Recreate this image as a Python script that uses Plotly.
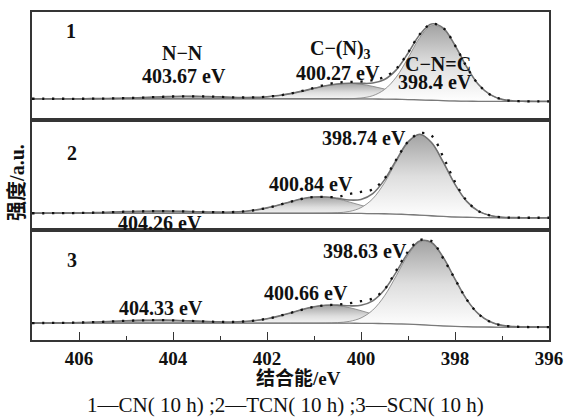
import plotly.graph_objects as go

# ---------------- data ----------------
binding_energy = [407.0, 406.75, 406.5, 406.25, 406.0, 405.75, 405.5, 405.25, 405.0,
                  404.75, 404.5, 404.25, 404.0, 403.75, 403.5, 403.25, 403.0, 402.75,
                  402.5, 402.25, 402.0, 401.75, 401.5, 401.25, 401.0, 400.75, 400.5,
                  400.25, 400.0, 399.75, 399.5, 399.25, 399.0, 398.75, 398.5, 398.25,
                  398.0, 397.75, 397.5, 397.25, 397.0, 396.75, 396.5, 396.25, 396.0]

# panel 1: CN(10 h)
bg_1 = [2.7]*27 + [2.6, 2.6, 2.5, 2.4, 2.2, 1.9, 1.6, 1.2, 0.8, 0.5, 0.3, 0.1, 0.1, 0, 0, 0, 0, 0]
nn_1 = [0, 0, 0, 0, 0, 0.1, 0.2, 0.4, 0.6, 1.0, 1.5, 1.9, 2.3, 2.5, 2.4, 2.2, 1.8, 1.3, 0.9, 0.5,
        0.3, 0.1] + [0]*23
cn3_1 = [0]*16 + [0.1, 0.2, 0.4, 0.9, 1.8, 3.2, 5.2, 7.7, 10.5, 13.1, 14.9, 15.5, 14.7, 12.7, 10.1,
                  7.3, 4.8, 2.9, 1.6, 0.8, 0.4, 0.2, 0.1] + [0]*6
cnc_1 = [0]*27 + [0.2, 0.9, 3.3, 9.6, 22.3, 41.8, 62.6, 75.2, 72.2, 55.6, 34.2, 16.8, 6.7, 2.1, 0.5,
                  0.1, 0, 0]
raw_1 = [2.7, 2.7, 2.7, 2.7, 2.7, 2.8, 2.9, 3.1, 3.3, 3.7, 4.2, 4.6, 5.0, 5.2, 5.1, 4.9, 4.6, 4.2,
         4.0, 4.1, 4.8, 6.0, 7.9, 10.6, 13.6, 17.0, 19.0, 19.6, 20.0, 21.4, 24.6, 33.0, 49.0, 67.5,
         78.0, 74.0, 56.5, 34.7, 17.0, 6.8, 2.1, 0.5, 0.1, 0, 0]

# panel 2: TCN(10 h)
bg_2 = [4.5]*27 + [4.4, 4.3, 4.1, 4.0, 3.7, 3.2, 2.7, 2.0, 1.4, 0.8, 0.5, 0.2, 0.1, 0, 0, 0, 0, 0]
nn_2 = [0, 0, 0.1, 0.2, 0.3, 0.5, 0.8, 1.2, 1.6, 1.9, 2.1, 2.2, 2.1, 1.9, 1.5, 1.2, 0.8, 0.5, 0.3,
        0.2, 0.1] + [0]*24
cn3_2 = [0]*15 + [0.1, 0.3, 0.7, 1.5, 3.0, 5.3, 8.3, 11.6, 14.6, 16.3, 16.2, 14.5, 11.5, 8.2, 5.2,
                  2.9, 1.5, 0.7, 0.3, 0.1] + [0]*10
cnc_2 = [0]*25 + [0.1, 0.5, 1.9, 5.9, 15.0, 31.2, 52.7, 72.4, 81.0, 73.6, 54.5, 32.8, 16.0, 6.4, 2.1,
                  0.5, 0.1, 0, 0, 0]
raw_2 = [4.5, 4.5, 4.6, 4.7, 4.8, 5.0, 5.3, 5.7, 6.1, 6.4, 6.6, 6.7, 6.6, 6.4, 6.0, 5.8, 5.6, 5.7,
         6.3, 7.7, 9.9, 12.8, 16.1, 19.1, 20.8, 20.9, 21.0, 23.8, 26.0, 28.5, 39.5, 58.5, 76.5,
         85.0, 82.5, 61.0, 36.0, 17.0, 6.6, 2.2, 0.5, 0.1, 0, 0, 0]

# panel 3: SCN(10 h)
bg_3 = [4.0]*27 + [3.9, 3.8, 3.7, 3.5, 3.3, 2.9, 2.4, 1.8, 1.2, 0.7, 0.4, 0.2, 0.1, 0, 0, 0, 0, 0]
nn_3 = [0, 0.1, 0.2, 0.3, 0.5, 0.9, 1.3, 1.8, 2.3, 2.7, 2.9, 3.0, 2.8, 2.4, 2.0, 1.4, 1.0, 0.6, 0.4,
        0.2, 0.1] + [0]*24
cn3_3 = [0]*15 + [0.1, 0.2, 0.5, 1.2, 2.4, 4.3, 7.0, 10.2, 13.6, 16.4, 17.9, 17.6, 15.7, 12.7, 9.3,
                  6.1, 3.7, 2.0, 1.0, 0.4, 0.2, 0.1] + [0]*8
cnc_3 = [0]*25 + [0.1, 0.5, 1.8, 5.4, 13.4, 27.9, 48.3, 69.5, 83.2, 82.9, 68.7, 47.4, 27.2, 13.0, 5.2,
                  1.7, 0.5, 0.1, 0, 0]
raw_3 = [4.0, 4.1, 4.2, 4.3, 4.5, 4.9, 5.3, 5.8, 6.3, 6.7, 6.9, 7.0, 6.8, 6.4, 6.0, 5.5, 5.2, 5.1,
         5.6, 6.6, 8.4, 11.0, 14.2, 17.6, 20.4, 22.0, 22.5, 24.0, 26.0, 28.8, 38.0, 57.0, 76.0,
         87.5, 86.5, 69.0, 48.2, 27.6, 13.2, 5.3, 1.7, 0.5, 0.1, 0, 0]

x_ticks = [406, 404, 402, 400, 398, 396]

panel_labels = ["1", "2", "3"]
caption = "1—CN( 10 h) ;2—TCN( 10 h) ;3—SCN( 10 h)"

# ---------------- figure ----------------
SERIF = "Liberation Serif, 'Noto Sans CJK SC', serif"
GRAD = [[0, "rgb(255,255,255)"], [0.5, "rgb(222,222,222)"], [1, "rgb(163,163,163)"]]

fig = go.Figure()

panels = [
    ("x", "y", bg_1, [nn_1, cn3_1, cnc_1], raw_1),
    ("x2", "y2", bg_2, [nn_2, cn3_2, cnc_2], raw_2),
    ("x3", "y3", bg_3, [nn_3, cn3_3, cnc_3], raw_3),
]

for xa, ya, bg, comps, raw in panels:
    for comp in comps:
        fig.add_trace(go.Scatter(x=binding_energy, y=bg, mode="lines",
                                 line=dict(width=0, shape="spline"),
                                 hoverinfo="skip", showlegend=False, xaxis=xa, yaxis=ya))
        top = [b + c for b, c in zip(bg, comp)]
        fig.add_trace(go.Scatter(x=binding_energy, y=top, mode="lines",
                                 line=dict(width=0.9, color="#8a8a8a", shape="spline"),
                                 fill="tonexty",
                                 fillgradient=dict(type="vertical", colorscale=GRAD),
                                 hoverinfo="skip", showlegend=False, xaxis=xa, yaxis=ya))
    env = [bg[i] + sum(c[i] for c in comps) for i in range(len(bg))]
    fig.add_trace(go.Scatter(x=binding_energy, y=bg, mode="lines",
                             line=dict(width=1.3, color="#7a7a7a", shape="spline"),
                             showlegend=False, xaxis=xa, yaxis=ya))
    fig.add_trace(go.Scatter(x=binding_energy, y=env, mode="lines",
                             line=dict(width=1.6, color="#727272", shape="spline"),
                             showlegend=False, xaxis=xa, yaxis=ya))
    fig.add_trace(go.Scatter(x=binding_energy, y=raw, mode="lines",
                             line=dict(width=2.3, color="#111111", shape="spline", dash="2.3px,7.7px"),
                             showlegend=False, xaxis=xa, yaxis=ya))

frame = dict(showline=True, mirror=True, linecolor="#353535", linewidth=1.5,
             showgrid=False, zeroline=False)

fig.update_layout(
    width=573, height=419,
    margin=dict(l=32, r=16, t=10, b=79),
    paper_bgcolor="white", plot_bgcolor="white",
    showlegend=False,
    xaxis=dict(range=[407, 396], anchor="y", showticklabels=False, ticks="", **frame),
    xaxis2=dict(range=[407, 396], anchor="y2", showticklabels=False, ticks="", **frame),
    xaxis3=dict(range=[407, 396], anchor="y3", tickvals=x_ticks,
                ticktext=[str(v) for v in x_ticks], ticks="inside", ticklen=8, tickwidth=1.4,
                tickcolor="#353535",
                minor=dict(ticks="inside", dtick=1, tick0=396, ticklen=4, tickwidth=1.2,
                           tickcolor="#353535"),
                tickfont=dict(family=SERIF, size=19, color="#111111", weight="bold"),
                **frame),
    yaxis=dict(domain=[0.6697, 1.0], range=[-19, 90], showticklabels=False, ticks="", anchor="x", **frame),
    yaxis2=dict(domain=[0.3364, 0.6697], range=[-12, 98], showticklabels=False, ticks="", anchor="x2", **frame),
    yaxis3=dict(domain=[0.0, 0.3364], range=[-13, 98], showticklabels=False, ticks="", anchor="x3", **frame),
)

label_font = dict(family=SERIF, size=20, color="#111111")
ann = [
    (panel_labels[0], 406.16, 71, "x", "y"),
    ("N−N", 403.79, 49, "x", "y"),
    ("403.67 eV", 403.77, 26, "x", "y"),
    ("C−(N)<sub>3</sub>", 400.44, 52, "x", "y"),
    ("400.27 eV", 400.48, 29, "x", "y"),
    ("C−N=C", 398.37, 38, "x", "y"),
    ("398.4 eV", 398.43, 20, "x", "y"),
    (panel_labels[1], 406.15, 65, "x2", "y2"),
    ("398.74 eV", 399.94, 80, "x2", "y2"),
    ("400.84 eV", 401.07, 34, "x2", "y2"),
    ("404.26 eV", 404.28, -5, "x2", "y2"),
    (panel_labels[2], 406.15, 67, "x3", "y3"),
    ("398.63 eV", 399.92, 77, "x3", "y3"),
    ("400.66 eV", 401.18, 34, "x3", "y3"),
    ("404.33 eV", 404.26, 19, "x3", "y3"),
]
for text, xv, yv, xr, yr in ann:
    fig.add_annotation(text="<b>" + text + "</b>", x=xv, y=yv, xref=xr, yref=yr,
                       showarrow=False, font=label_font, xanchor="center", yanchor="middle")

fig.add_annotation(text="<b>结合能/eV</b>", x=0.516, y=-0.118, xref="paper", yref="paper",
                   showarrow=False, font=dict(family=SERIF, size=19, color="#111111"),
                   xanchor="center", yanchor="middle")
fig.add_annotation(text="<b>强度/a.u.</b>", x=-0.029, y=0.479, xref="paper", yref="paper",
                   showarrow=False, textangle=-90, font=dict(family=SERIF, size=20, color="#111111"),
                   xanchor="center", yanchor="middle")
fig.add_annotation(text=caption, x=0.491, y=-0.197, xref="paper", yref="paper",
                   showarrow=False, font=dict(family=SERIF, size=21, color="#111111"),
                   xanchor="center", yanchor="middle")

fig.write_html("out.html")
